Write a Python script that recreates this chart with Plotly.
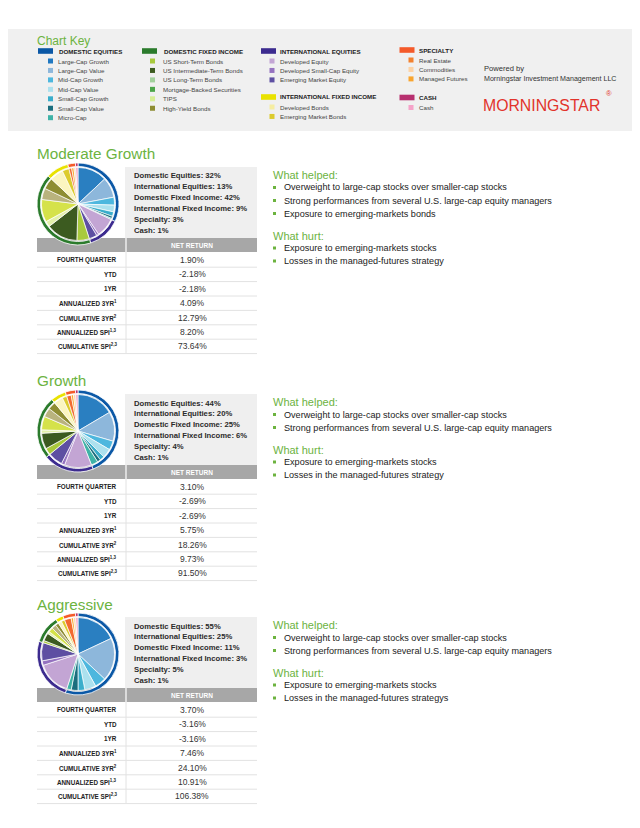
import plotly.graph_objects as go

# page body adds an 8px margin, so the figure is drawn 8px in from the window edge
PAGE_W, PAGE_H, OFF = 640, 828, 8
W, H = PAGE_W - OFF, PAGE_H - OFF

# ---------------- data ----------------
portfolio_names = ["Moderate Growth", "Growth", "Aggressive"]

asset_classes = ["Domestic Equities", "International Equities", "Domestic Fixed Income",
                 "International Fixed Income", "Specialty", "Cash"]
moderate_class_pct = [32, 13, 42, 9, 3, 1]
growth_class_pct = [44, 20, 25, 6, 4, 1]
aggressive_class_pct = [55, 25, 11, 3, 5, 1]

holdings = ["Large-Cap Growth", "Large-Cap Value", "Mid-Cap Growth", "Mid-Cap Value",
            "Small-Cap Growth", "Small-Cap Value", "Micro-Cap",
            "Developed Equity", "Developed Small-Cap Equity", "Emerging Market Equity",
            "US Short-Term Bonds", "US Intermediate-Term Bonds", "US Long-Term Bonds",
            "TIPS", "Mortgage-Backed Securities", "High-Yield Bonds",
            "Developed Bonds", "Emerging Market Bonds",
            "Real Estate", "Managed Futures", "Commodities", "Cash"]
moderate_holdings = [13, 9, 3.5, 3, 2, 1, 0.5, 8.5, 1, 3.5, 5.5, 14, 2.5, 10, 5, 5, 6, 3, 1.2, 1, 0.8, 1]
growth_holdings = [16.5, 13, 4, 4, 2, 1.5, 3, 12, 1.5, 6.5, 3, 7, 1.5, 6, 4, 3.5, 4, 2, 2, 1, 1, 1]
aggressive_holdings = [18, 19, 5, 5, 3, 3, 2, 15, 2, 8, 1, 3.5, 1, 2, 2, 1.5, 1.5, 1.5, 3, 1, 1, 1]

return_header = "NET RETURN"
return_labels = ["FOURTH QUARTER", "YTD", "1YR", "ANNUALIZED 3YR", "CUMULATIVE 3YR",
                 "ANNUALIZED SPI", "CUMULATIVE SPI"]
return_notes = ["", "", "", "1", "2", "1,3", "2,3"]
moderate_returns = [1.90, -2.18, -2.18, 4.09, 12.79, 8.20, 73.64]
growth_returns = [3.10, -2.69, -2.69, 5.75, 18.26, 9.73, 91.50]
aggressive_returns = [3.70, -3.16, -3.16, 7.46, 24.10, 10.91, 106.38]

moderate_helped = ["Overweight to large-cap stocks over smaller-cap stocks",
                   "Strong performances from several U.S. large-cap equity managers",
                   "Exposure to emerging-markets bonds"]
moderate_hurt = ["Exposure to emerging-markets stocks",
                 "Losses in the managed-futures strategy"]
growth_helped = ["Overweight to large-cap stocks over smaller-cap stocks",
                 "Strong performances from several U.S. large-cap equity managers"]
growth_hurt = ["Exposure to emerging-markets stocks",
               "Losses in the managed-futures strategy"]
aggressive_helped = ["Overweight to large-cap stocks over smaller-cap stocks",
                     "Strong performances from several U.S. large-cap equity managers"]
aggressive_hurt = ["Exposure to emerging-markets stocks",
                   "Losses in the managed-futures strategys"]

key_headers = ["DOMESTIC EQUITIES", "DOMESTIC FIXED INCOME", "INTERNATIONAL EQUITIES",
               "INTERNATIONAL FIXED INCOME", "SPECIALTY", "CASH"]
key_items = [
    ["Large-Cap Growth", "Large-Cap Value", "Mid-Cap Growth", "Mid-Cap Value",
     "Small-Cap Growth", "Small-Cap Value", "Micro-Cap"],
    ["US Short-Term Bonds", "US Intermediate-Term Bonds", "US Long-Term Bonds",
     "Mortgage-Backed Securities", "TIPS", "High-Yield Bonds"],
    ["Developed Equity", "Developed Small-Cap Equity", "Emerging Market Equity"],
    ["Developed Bonds", "Emerging Market Bonds"],
    ["Real Estate", "Commodities", "Managed Futures"],
    ["Cash"],
]

# ---------------- styles ----------------
GREEN = "#6cb33f"
TXT = "#2b2b2b"
SANS = "Liberation Sans, Arial, Helvetica, sans-serif"

class_colors = ["#0b58a6", "#3c2b8f", "#2b7b2c", "#e9e200", "#f45a2a", "#b7306f"]
key_header_colors = ["#0b58a6", "#2b7b2c", "#3c2b8f", "#e9e200", "#f45a2a", "#b7306f"]
pie_colors = {
    "Large-Cap Growth": "#2a7fc1", "Large-Cap Value": "#8db7db", "Mid-Cap Growth": "#4db7de",
    "Mid-Cap Value": "#ace1ee", "Small-Cap Growth": "#3aaecb", "Small-Cap Value": "#1a6e7e",
    "Micro-Cap": "#3fb3a7", "Developed Equity": "#c3a5d4", "Developed Small-Cap Equity": "#9572c0",
    "Emerging Market Equity": "#5d4fa2", "US Short-Term Bonds": "#a9ca3d",
    "US Intermediate-Term Bonds": "#3c5b20", "US Long-Term Bonds": "#e3f1ab", "TIPS": "#d5e24a",
    "Mortgage-Backed Securities": "#b9b37e", "High-Yield Bonds": "#8e8d33",
    "Developed Bonds": "#fbf5c0", "Emerging Market Bonds": "#dccb2e", "Real Estate": "#f26a30",
    "Managed Futures": "#f9a52e", "Commodities": "#fdd2a4", "Cash": "#f5a3c9",
}
key_colors = dict(pie_colors)
key_colors.update({"US Long-Term Bonds": "#a2d19c", "TIPS": "#d6ee95",
                   "Mortgage-Backed Securities": "#4ca54a", "Developed Bonds": "#f5eda2",
                   "Real Estate": "#f3812f", "Large-Cap Growth": "#1f78c1"})


def X(px):
    return (px - OFF) / W


def Y(py):
    return 1 - (py - OFF) / H


shapes = []
annotations = []


def rect(x0, y0, x1, y1, color):
    shapes.append(dict(type="rect", xref="paper", yref="paper", x0=X(x0), x1=X(x1),
                       y0=Y(y1), y1=Y(y0), fillcolor=color, line=dict(width=0), layer="below"))


def hline(x0, x1, y, color, width=1):
    shapes.append(dict(type="line", xref="paper", yref="paper", x0=X(x0), x1=X(x1),
                       y0=Y(y), y1=Y(y), line=dict(color=color, width=width), layer="below"))


def vline(x, y0, y1, color, width=1):
    shapes.append(dict(type="line", xref="paper", yref="paper", x0=X(x), x1=X(x),
                       y0=Y(y0), y1=Y(y1), line=dict(color=color, width=width), layer="below"))


def text(x, y, s, size, color=TXT, xanchor="left", weight="normal"):
    annotations.append(dict(x=X(x), y=Y(y), xref="paper", yref="paper", text=s,
                            showarrow=False, xanchor=xanchor, yanchor="middle",
                            borderpad=0,
                            font=dict(size=size, color=color, family=SANS, weight=weight)))


fig = go.Figure()

# ---------------- chart key ----------------
rect(OFF, 29, PAGE_W, 131, "#f0f0f0")
text(36, 41, "Chart Key", 12, GREEN)

key_cols = [  # (header index, swatch x, item square x, text x, header y)
    (0, 38, 48, 57, 51),
    (1, 142, 150, 162, 51),
    (2, 261, 269.5, 278.5, 51),
    (3, 261, 269.5, 278.5, 97),
    (4, 399.5, 408.5, 417.5, 50),
    (5, 399.5, 408.5, 417.5, 97.5),
]
for gi, sx, ix, tx, hy in key_cols:
    rect(sx, hy - 2.8, sx + 15, hy + 2.8, key_header_colors[gi])
    text(tx + 0.5, hy, key_headers[gi], 6.2, "#222", weight="bold")
    for k, name in enumerate(key_items[gi]):
        iy = hy + 10 + 9.45 * k
        rect(ix, iy - 2.5, ix + 5, iy + 2.5, key_colors[name])
        text(tx, iy, name, 6.2, "#444")

text(483, 69, "Powered by", 7.6, "#333")
text(483, 79, "Morningstar Investment Management LLC", 7.1, "#333")
text(482, 105, "MORNINGSTAR", 15.8, "#e2332b")
text(605, 94, "®", 7.5, "#e2332b")

# ---------------- portfolios ----------------
portfolios = [
    (moderate_class_pct, moderate_holdings, moderate_returns, moderate_helped, moderate_hurt),
    (growth_class_pct, growth_holdings, growth_returns, growth_helped, growth_hurt),
    (aggressive_class_pct, aggressive_holdings, aggressive_returns, aggressive_helped, aggressive_hurt),
]
offsets = [0, 227, 450]

for name, (cls, hold, rets, helped, hurt), dy in zip(portfolio_names, portfolios, offsets):
    text(36, 154 + dy, name, 15.3, GREEN)

    # allocation text box
    rect(125, 167 + dy, 257, 238 + dy, "#efefef")
    for i, (c, p) in enumerate(zip(asset_classes, cls)):
        text(133, 176 + dy + 10.8 * i, f"{c}: {p}%", 7.7, TXT, weight="bold")

    # returns table: header bar, grid lines and cell text
    rect(37, 238 + dy, 257, 252 + dy, "#a7a7a7")
    vline(126, 238 + dy, 252 + dy, "white", 1.2)
    vline(126, 252 + dy, 353 + dy, "#e2e2e2", 1)
    text(192, 245.3 + dy, return_header, 6.5, "white", xanchor="center", weight="bold")
    for i, (lab, note, v) in enumerate(zip(return_labels, return_notes, rets)):
        ry = 260 + dy + 14.4 * i
        hline(37, 257, ry + 7.2, "#e2e2e2", 1)
        lab_txt = lab + (f"<sup>{note}</sup>" if note else "")
        text(118, ry, lab_txt, 6.3, "#222", xanchor="right", weight="bold")
        text(192, ry, f"{v:.2f}%", 8.5, "#333", xanchor="center")

    # pie: outer ring of asset classes and inner holdings
    cx, cy, R, r = 78, 204 + dy, 41, 36.5
    fig.add_trace(go.Pie(
        labels=asset_classes, values=cls, sort=False, direction="clockwise", rotation=0,
        hole=0.915, textinfo="none", showlegend=False,
        marker=dict(colors=class_colors, line=dict(color="white", width=0.8)),
        domain=dict(x=[X(cx - R), X(cx + R)], y=[Y(cy + R), Y(cy - R)]),
    ))
    fig.add_trace(go.Pie(
        labels=holdings, values=hold, sort=False, direction="clockwise", rotation=0,
        textinfo="none", showlegend=False,
        marker=dict(colors=[pie_colors[h] for h in holdings], line=dict(color="white", width=0.7)),
        domain=dict(x=[X(cx - r), X(cx + r)], y=[Y(cy + r), Y(cy - r)]),
    ))

    # what helped / what hurt
    y = 175 + dy
    for title, items in (("What helped:", helped), ("What hurt:", hurt)):
        text(272, y, title, 11, GREEN)
        y += 12.5
        for it in items:
            rect(273, y - 1.5, 276, y + 1.5, GREEN)
            text(283, y, it, 9.1, "#222")
            y += 13
        y += 9

fig.update_layout(
    width=W, height=H, margin=dict(l=0, r=0, t=0, b=0),
    paper_bgcolor="white", plot_bgcolor="white",
    shapes=shapes, annotations=annotations, showlegend=False,
)
fig.write_html("out.html")
